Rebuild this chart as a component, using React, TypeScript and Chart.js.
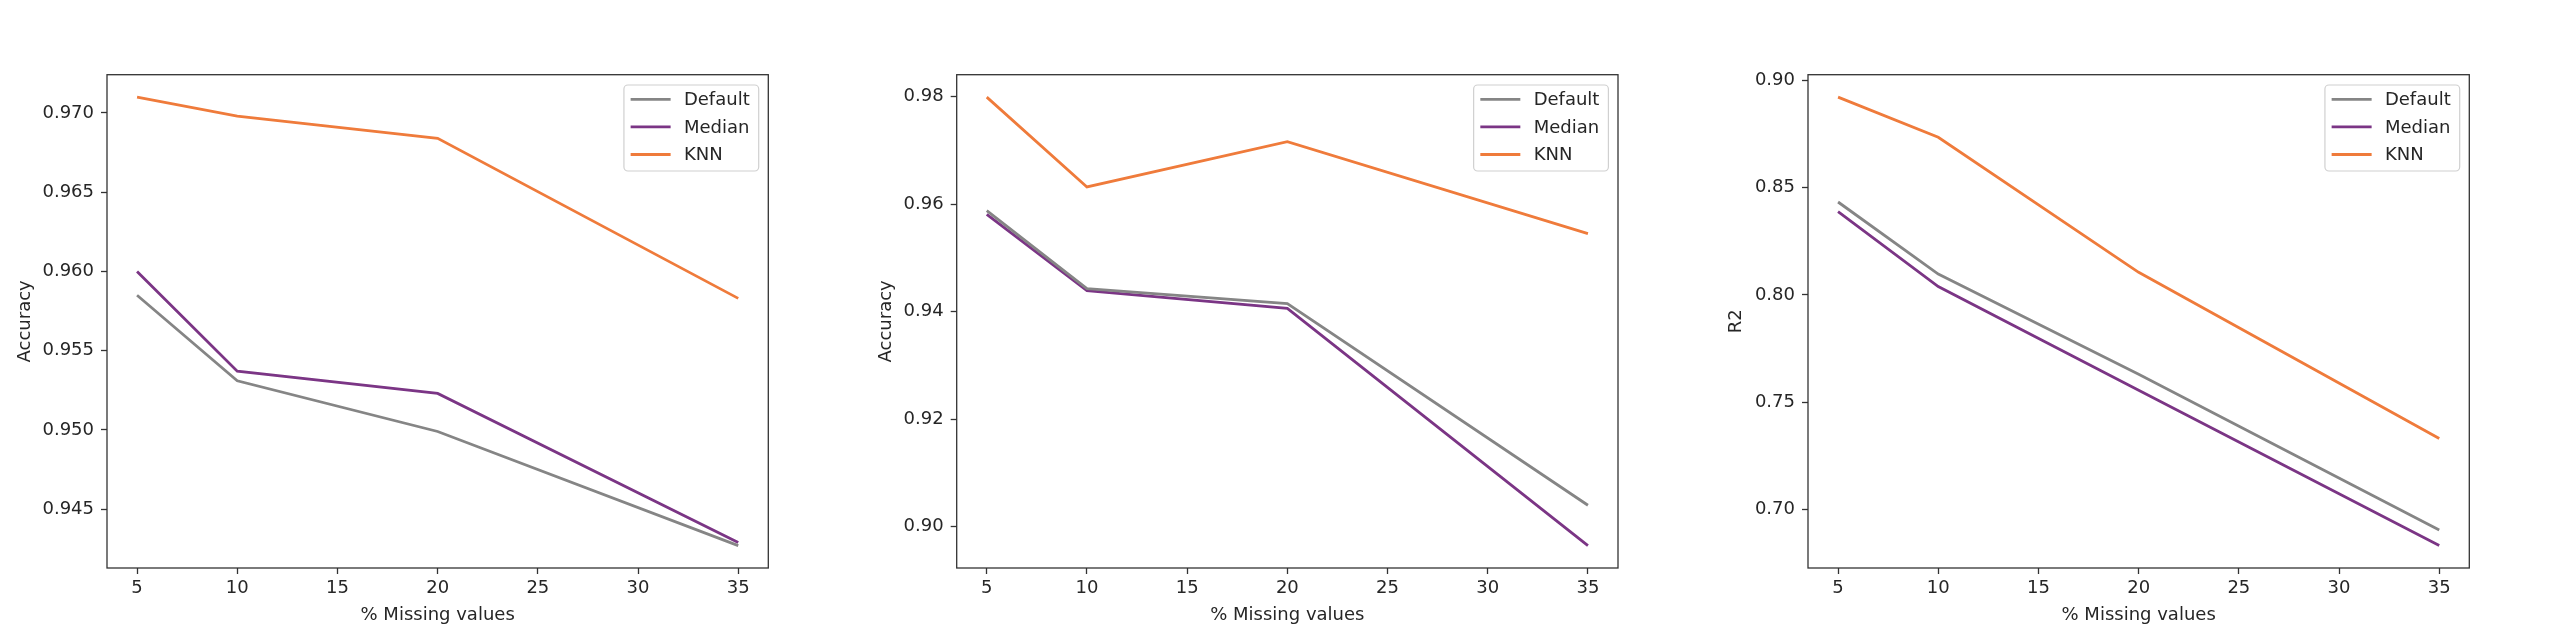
import React, { useEffect, useRef } from "react";
import { Chart, registerables } from "chart.js";

Chart.register(...registerables);

// ---- data ----
const X_VALUES = [5, 10, 20, 35];
const X_TICKS = [5, 10, 15, 20, 25, 30, 35];
const SERIES_LABELS = ["Default", "Median", "KNN"];
const SERIES_COLORS = ["#858585", "#7b3585", "#ef7b3b"];

const ACC1_DEFAULT = [0.9585, 0.9531, 0.9499, 0.9427];
const ACC1_MEDIAN = [0.96, 0.9537, 0.9523, 0.9429];
const ACC1_KNN = [0.971, 0.9698, 0.9684, 0.9583];
const ACC1_TICKS = [0.945, 0.95, 0.955, 0.96, 0.965, 0.97];

const ACC2_DEFAULT = [0.9588, 0.9443, 0.9415, 0.904];
const ACC2_MEDIAN = [0.9581, 0.9439, 0.9406, 0.8965];
const ACC2_KNN = [0.9799, 0.9632, 0.9716, 0.9545];
const ACC2_TICKS = [0.9, 0.92, 0.94, 0.96, 0.98];

const R2_DEFAULT = [0.8433, 0.8097, 0.763, 0.6904];
const R2_MEDIAN = [0.8388, 0.8039, 0.7555, 0.6831];
const R2_KNN = [0.8922, 0.8735, 0.8105, 0.733];
const R2_TICKS = [0.7, 0.75, 0.8, 0.85, 0.9];

const X_TITLE = "% Missing values";

const FONT = "'DejaVu Sans', sans-serif";
const TEXT = "#262626";
const FRAME = "#333333";

type PanelProps = {
  left: number;
  series: number[][];
  yTicks: number[];
  decimals: number;
  yTitle: string;
  yTitlePad: number;
  yWidth: number;
};

const CANVAS_W = 850;
const CANVAS_H = 639;
const AREA_TOP = 74.7;
const AREA_W = 661.3;
const AREA_BOTTOM = 568;

function Panel({ left, series, yTicks, decimals, yTitle, yTitlePad, yWidth }: PanelProps) {
  const ref = useRef<HTMLCanvasElement | null>(null);
  useEffect(() => {
    if (!ref.current) return;
    const all = series.flat();
    const mn = Math.min(...all);
    const mx = Math.max(...all);
    const r = mx - mn;
    const xmn = Math.min(...X_VALUES);
    const xmx = Math.max(...X_VALUES);
    const xr = xmx - xmn;

    const framePlugin = {
      id: "frameLegend",
      afterDraw(chart: any) {
        const { ctx, chartArea } = chart;
        ctx.save();
        ctx.strokeStyle = FRAME;
        ctx.lineWidth = 1.3;
        ctx.strokeRect(chartArea.left, chartArea.top, chartArea.right - chartArea.left, chartArea.bottom - chartArea.top);
        // legend
        ctx.font = `18px ${FONT}`;
        const ds = chart.data.datasets;
        let maxW = 0;
        ds.forEach((d: any) => { maxW = Math.max(maxW, ctx.measureText(d.label).width); });
        const boxW = 60 + maxW + 9;
        const boxH = 86;
        const bx = chartArea.right - 9.6 - boxW;
        const by = chartArea.top + 10.3;
        ctx.beginPath();
        const rr = 4;
        ctx.moveTo(bx + rr, by);
        ctx.lineTo(bx + boxW - rr, by);
        ctx.arcTo(bx + boxW, by, bx + boxW, by + rr, rr);
        ctx.lineTo(bx + boxW, by + boxH - rr);
        ctx.arcTo(bx + boxW, by + boxH, bx + boxW - rr, by + boxH, rr);
        ctx.lineTo(bx + rr, by + boxH);
        ctx.arcTo(bx, by + boxH, bx, by + boxH - rr, rr);
        ctx.lineTo(bx, by + rr);
        ctx.arcTo(bx, by, bx + rr, by, rr);
        ctx.closePath();
        ctx.fillStyle = "rgba(255,255,255,0.8)";
        ctx.fill();
        ctx.strokeStyle = "#d0d0d0";
        ctx.lineWidth = 1.2;
        ctx.stroke();
        ds.forEach((d: any, i: number) => {
          const y = by + 14.3 + i * 27.6;
          ctx.strokeStyle = d.borderColor;
          ctx.lineWidth = 2.8;
          ctx.beginPath();
          ctx.moveTo(bx + 6.7, y);
          ctx.lineTo(bx + 46.7, y);
          ctx.stroke();
          ctx.fillStyle = TEXT;
          ctx.textAlign = "left";
          ctx.textBaseline = "middle";
          ctx.fillText(d.label, bx + 60, y + 1);
        });
        ctx.restore();
      },
    };

    const chart = new Chart(ref.current, {
      type: "line",
      data: {
        datasets: series.map((vals, i) => ({
          label: SERIES_LABELS[i],
          data: X_VALUES.map((x, j) => ({ x, y: vals[j] })),
          borderColor: SERIES_COLORS[i],
          backgroundColor: SERIES_COLORS[i],
          borderWidth: 2.8,
          pointRadius: 0,
          tension: 0,
          fill: false,
        })),
      },
      options: {
        animation: false,
        responsive: false,
        maintainAspectRatio: false,
        layout: { padding: { top: AREA_TOP, right: CANVAS_W - yWidth - AREA_W, bottom: 0, left: 0 } },
        plugins: { legend: { display: false }, tooltip: { enabled: false }, title: { display: false } },
        scales: {
          x: {
            type: "linear",
            min: xmn - 0.05 * xr,
            max: xmx + 0.05 * xr,
            afterFit: (s: any) => { s.height = CANVAS_H - AREA_BOTTOM; },
            afterBuildTicks: (s: any) => { s.ticks = X_TICKS.map((v) => ({ value: v })); },
            grid: { drawOnChartArea: false, drawTicks: true, tickLength: 6, tickColor: FRAME, tickWidth: 1.3 },
            border: { display: false },
            ticks: {
              color: TEXT,
              font: { family: FONT, size: 18 },
              padding: 4,
              maxRotation: 0,
              autoSkip: false,
              callback: (v: any) => String(v),
            },
            title: {
              display: true,
              text: X_TITLE,
              color: TEXT,
              font: { family: FONT, size: 18, lineHeight: 1.2 },
              padding: { top: 0, bottom: 12.8 },
            },
          },
          y: {
            type: "linear",
            min: mn - 0.05 * r,
            max: mx + 0.05 * r,
            afterFit: (s: any) => { s.width = yWidth; },
            afterBuildTicks: (s: any) => { s.ticks = yTicks.map((v) => ({ value: v })); },
            grid: { drawOnChartArea: false, drawTicks: true, tickLength: 6, tickColor: FRAME, tickWidth: 1.3 },
            border: { display: false },
            ticks: {
              color: TEXT,
              font: { family: FONT, size: 18 },
              padding: 7,
              autoSkip: false,
              callback: (v: any) => Number(v).toFixed(decimals),
            },
            title: {
              display: true,
              text: yTitle,
              color: TEXT,
              font: { family: FONT, size: 18, lineHeight: 1.2 },
              padding: { top: yTitlePad, bottom: 0 },
            },
          },
        },
      },
      plugins: [framePlugin],
    } as any);
    return () => chart.destroy();
  }, []);
  return (
    <canvas
      ref={ref}
      width={CANVAS_W}
      height={CANVAS_H}
      style={{ position: "absolute", left, top: 0, width: CANVAS_W, height: CANVAS_H }}
    />
  );
}

export default function App() {
  return (
    <div style={{ position: "absolute", left: 0, top: 0, width: 2560, height: 639, background: "#fff", overflow: "hidden" }}>
      <Panel left={0} series={[ACC1_DEFAULT, ACC1_MEDIAN, ACC1_KNN]} yTicks={ACC1_TICKS} decimals={3} yTitle="Accuracy" yTitlePad={14.2} yWidth={107} />
      <Panel left={850} series={[ACC2_DEFAULT, ACC2_MEDIAN, ACC2_KNN]} yTicks={ACC2_TICKS} decimals={2} yTitle="Accuracy" yTitlePad={25.9} yWidth={106.7} />
      <Panel left={1701} series={[R2_DEFAULT, R2_MEDIAN, R2_KNN]} yTicks={R2_TICKS} decimals={2} yTitle="R2" yTitlePad={24.3} yWidth={107} />
    </div>
  );
}
